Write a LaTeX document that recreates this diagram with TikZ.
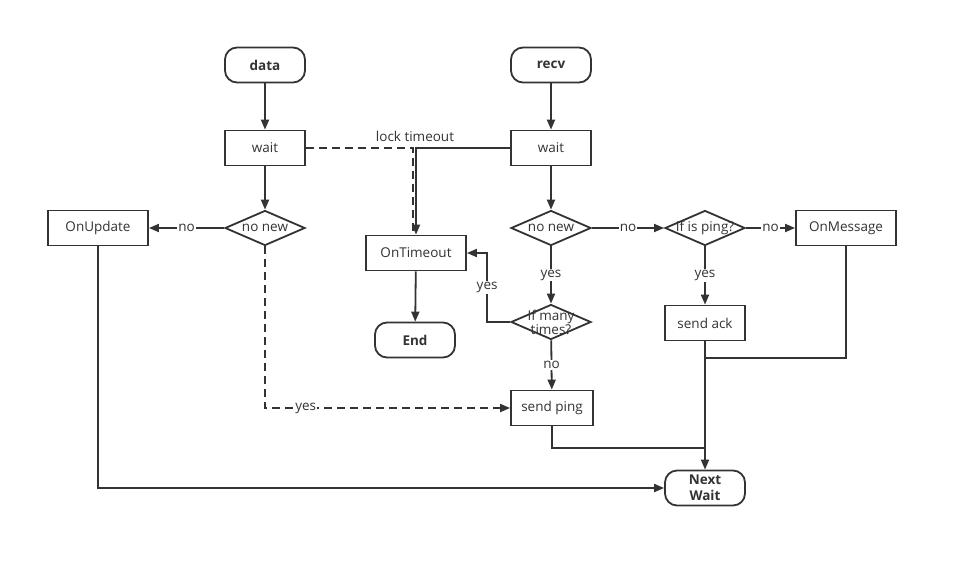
\documentclass[tikz,border=0pt]{standalone}
\usepackage{fontspec}
\setmainfont{Open Sans}
\usetikzlibrary{arrows.meta,shapes.geometric}
\definecolor{ln}{HTML}{333333}
\newcommand{\fs}{\fontsize{13.5}{16}\selectfont}
\tikzset{
  box/.style={draw=ln, line width=1.8pt, minimum width=100pt, minimum height=35pt, inner sep=0pt, font=\fs, text=ln},
  term/.style={box, rounded corners=12pt, minimum width=80pt, font=\fs\bfseries},
  dia/.style={diamond, draw=ln, line width=1.8pt, minimum width=80pt, minimum height=35pt, inner sep=0pt},
  dtext/.style={font=\fs, text=ln, align=center, inner sep=0pt},
  lbl/.style={font=\fs, text=ln, fill=white, inner sep=1pt},
  conn/.style={draw=ln, line width=1.8pt},
  arr/.style={conn, -{Triangle[length=10pt,width=8pt]}},
  dsh/.style={dash pattern=on 8pt off 5pt}
}
\begin{document}
\begin{tikzpicture}[x=1pt,y=-1pt]
\useasboundingbox[fill=white] (0,0) rectangle (957,568);
\node[term] (data) at (265,65) {data};
\node[term] (recv) at (551,65) {recv};
\node[box,minimum width=80pt] (wait1) at (265,148) {wait};
\node[box,minimum width=80pt] (wait2) at (551,148) {wait};
\node[dia,label={[dtext]center:no new}] (nn1) at (265,228) {};
\node[box] (onupd) at (98,228) {OnUpdate};
\node[box] (ontime) at (416,253) {OnTimeout};
\node[term] (end) at (415,340) {End};
\node[dia,label={[dtext]center:no new}] (nn2) at (551,228) {};
\node[dia,label={[dtext]center:If is ping?}] (ping) at (705,228) {};
\node[box] (onmsg) at (846,228) {OnMessage};
\node[box,minimum width=80pt] (ack) at (705,323) {send ack};
\node[dia,label={[dtext,font=\fontsize{13.5}{14}\selectfont]center:{If many\\times?}}] (many) at (551,322) {};
\node[box,minimum width=82pt] (sping) at (552,408) {send ping};
\node[term, align=center, font=\fontsize{13.5}{16}\selectfont\bfseries] (next) at (705,488) {Next\\Wait};
\coordinate (j1) at (705,448);
\coordinate (j2) at (705,358);

\draw[arr] (data) -- (wait1);
\draw[arr] (recv) -- (wait2);
\draw[conn,dsh] (wait1.east) -- ([xshift=-3pt]wait1.east -| ontime.north) -- ([xshift=-3pt]ontime.north);
\draw[arr] (wait2.west) -- (wait2.west -| ontime.north) -- (ontime.north);
\node[font=\fs, text=ln] (lt) at (415,136) {lock timeout};
\draw[arr] (wait1) -- (nn1);
\draw[arr] (nn1) -- node[lbl]{no} (onupd);
\draw[arr,dsh] (nn1.south) |- node[lbl,pos=0.583]{yes} (sping.west);
\draw[arr] (onupd.south) |- (next.west);
\draw[arr] (wait2) -- (nn2);
\draw[arr] (nn2) -- node[lbl]{no} (ping);
\draw[arr] (ping) -- node[lbl]{no} (onmsg);
\draw[arr] (ping) -- node[lbl]{yes} (ack);
\draw[arr] (nn2) -- node[lbl]{yes} (many);
\draw[arr] (many.west) -- ([xshift=-23pt]many.west) |- node[lbl,pos=0.25]{yes} (ontime.east);
\draw[arr] (many) -- node[lbl]{no} (sping);
\draw[arr] (ontime) -- (end);
\draw[conn] (sping.south) |- (j1);
\draw[arr] (ack.south) -- (next.north);
\draw[conn] (onmsg.south) |- (j2);
\end{tikzpicture}
\end{document}
